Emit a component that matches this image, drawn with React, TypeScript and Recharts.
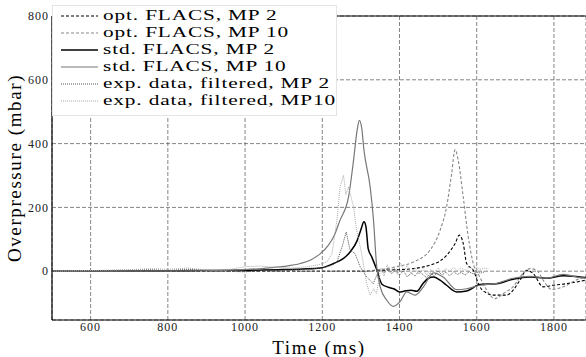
import React from "react";
import { LineChart, Line, XAxis, YAxis, CartesianGrid, ReferenceLine } from "recharts";

type Pt = { t: number; p: number };

const X_TICKS = [600, 800, 1000, 1200, 1400, 1600, 1800];
const Y_TICKS = [0, 200, 400, 600, 800];

// [time ms, overpressure mbar]
const optMp2: [number, number][] = [
    [500, 0], [1300, 0], [1350, 3], [1400, 5], [1436, 8], [1479, 19], [1505, 32], [1522, 50],
    [1535, 70], [1544, 87], [1555, 113], [1565, 87], [1574, 24], [1591, 3], [1608, -49],
    [1625, -68], [1643, -75], [1677, -75], [1694, -60], [1712, -28], [1729, 3], [1746, -7],
    [1772, -49], [1798, -44], [1833, -39], [1883, -28],
];

const optMp10: [number, number][] = [
    [500, 0], [1300, 1], [1350, 5], [1393, 14], [1436, 29], [1479, 66], [1505, 128], [1522, 202],
    [1535, 306], [1544, 381], [1552, 348], [1565, 233], [1578, 108], [1591, 24], [1608, -18],
    [1626, -60], [1647, -86], [1669, -70], [1694, -49], [1720, -7], [1738, 8], [1755, 3],
    [1772, -28], [1794, -57], [1824, -49], [1867, -23], [1883, -18],
];

const stdMp2: [number, number][] = [
    [500, 0], [700, 1], [900, 2], [1000, 3], [1100, 5], [1150, 7], [1195, 10], [1229, 24],
    [1255, 40], [1272, 60], [1290, 95], [1300, 130], [1308, 155], [1313, 140], [1319, 70],
    [1328, 45], [1341, 5], [1354, -40], [1370, -50], [1385, -55], [1400, -65], [1414, -62],
    [1430, -60], [1445, -63], [1460, -40], [1475, -22], [1488, -18], [1505, -28], [1522, -44],
    [1548, -65], [1574, -62], [1608, -42], [1652, -39], [1694, -25], [1738, -18], [1781, -22],
    [1824, -14], [1867, -18], [1883, -20],
];

const stdMp10: [number, number][] = [
    [500, 0], [800, 1], [950, 3], [1000, 5], [1050, 9], [1100, 15], [1143, 24], [1170, 35],
    [1195, 55], [1215, 80], [1229, 107], [1246, 160], [1268, 233], [1281, 348], [1290, 440],
    [1296, 473], [1302, 450], [1308, 379], [1324, 264], [1332, 170], [1341, 14], [1350, -49],
    [1367, -91], [1384, -110], [1401, -96], [1419, -65], [1440, -75], [1462, -49], [1488, -5],
    [1513, -18], [1548, -58], [1574, -55], [1608, -44], [1652, -38], [1694, -22], [1738, -16],
    [1781, -22], [1824, -10], [1867, -20], [1883, -22],
];

const expMp2: [number, number][] = [
    [500, 0], [600, 1], [700, 3], [750, 5], [800, 2], [850, 6], [900, 3], [950, 0], [1000, -2],
    [1050, 2], [1100, 3], [1150, 5], [1200, 10], [1225, 18], [1238, 29], [1251, 76], [1262, 123],
    [1272, 66], [1285, 55], [1298, 14], [1315, -18], [1332, -39], [1342, -10], [1350, 3],
    [1360, -5], [1370, 10], [1380, -8], [1390, 5], [1400, -12], [1410, 2], [1420, -18],
    [1430, -5], [1440, -15], [1450, 0], [1460, -10], [1470, -20], [1480, -5], [1490, -15],
    [1500, 0], [1510, -12], [1520, -3], [1530, -15], [1540, -2], [1550, -10], [1560, -4],
    [1570, -12], [1580, -2], [1590, -8], [1600, -3], [1610, -6], [1620, -2],
];

const expMp10: [number, number][] = [
    [500, 0], [600, 2], [700, 5], [760, 8], [800, 6], [850, 10], [900, 4], [950, 3], [980, 10],
    [1000, 14], [1040, 16], [1080, 12], [1120, 10], [1160, 14], [1190, 20], [1212, 29],
    [1225, 55], [1238, 160], [1246, 264], [1255, 301], [1261, 240], [1268, 264], [1281, 202],
    [1289, 128], [1302, 55], [1315, -40], [1324, -75], [1333, -55], [1340, -70], [1348, -20],
    [1352, 10], [1360, -15], [1368, 20], [1376, -5], [1385, 15], [1394, -10], [1403, 25],
    [1412, 0], [1420, 20], [1430, -8], [1440, 12], [1450, -10], [1460, 8], [1470, -12],
    [1480, 5], [1490, -5], [1500, 10], [1510, -5], [1520, 8], [1530, 0], [1540, 12], [1550, 2],
    [1560, 10], [1570, 3], [1580, 14], [1590, 5], [1600, 12], [1610, 6], [1620, 10], [1630, 8],
];

const toPts = (arr: [number, number][]): Pt[] => arr.map(([t, p]) => ({ t, p }));

const SERIES = [
    { name: "opt. FLACS, MP 2", data: optMp2, color: "#000", dash: "3 2", width: 1.1, type: "monotone" },
    { name: "opt. FLACS, MP 10", data: optMp10, color: "#888", dash: "3 2", width: 1.1, type: "monotone" },
    { name: "std. FLACS, MP 2", data: stdMp2, color: "#000", dash: undefined, width: 1.5, type: "monotone" },
    { name: "std. FLACS, MP 10", data: stdMp10, color: "#777", dash: undefined, width: 1.2, type: "monotone" },
    { name: "exp. data, filtered, MP 2", data: expMp2, color: "#555", dash: "1 1", width: 1, type: "linear" },
    { name: "exp. data, filtered, MP10", data: expMp10, color: "#aaa", dash: "1 1", width: 1, type: "linear" },
];

const FONT = "Liberation Serif";

// the original figure is stretched sideways, so the legend text is too
const LegendBox = () => (
    <div
        style={{
            position: "absolute",
            left: 52,
            top: 5,
            background: "#fff",
            border: "1px solid #e4e4e4",
            width: 283,
            height: 108,
            paddingTop: 1,
            fontFamily: FONT,
        }}
    >
        {SERIES.map((s, i) => (
            <div key={`lg-${i}`} style={{ display: "flex", alignItems: "center", height: 17 }}>
                <svg width={50} height={10} style={{ flex: "none" }}>
                    <line x1={8} x2={45} y1={5} y2={5} stroke={s.color} strokeWidth={s.width} strokeDasharray={s.dash} />
                </svg>
                <span
                    style={{
                        display: "inline-block",
                        fontSize: 15,
                        lineHeight: "17px",
                        color: "#000",
                        whiteSpace: "nowrap",
                        letterSpacing: 0.6,
                        transform: "scaleX(1.42)",
                        transformOrigin: "left center",
                    }}
                >
                    {s.name}
                </span>
            </div>
        ))}
    </div>
);

export default function App() {
    return (
        <div style={{ position: "absolute", left: 0, top: 0, width: 586, height: 357, background: "#fff", overflow: "hidden" }}>
            <LineChart width={586} height={357} margin={{ top: 16, right: 0, bottom: 0, left: 0 }}>
                <CartesianGrid stroke="#666" strokeDasharray="4 2" strokeWidth={0.8} />
                <XAxis
                    dataKey="t"
                    type="number"
                    domain={[500, 1883]}
                    ticks={X_TICKS}
                    allowDataOverflow
                    height={37}
                    axisLine={{ stroke: "#000", strokeWidth: 1.2 }}
                    tickLine={false}
                    tickSize={2}
                    tickMargin={0}
                    tick={{ fontSize: 12, fill: "#222", fontFamily: FONT, letterSpacing: 1 }}
                    label={{ value: "Time (ms)", position: "insideBottom", offset: 3, fontSize: 19, fill: "#000", fontFamily: FONT, letterSpacing: 1.6 }}
                />
                <YAxis
                    dataKey="p"
                    type="number"
                    domain={[-153, 800]}
                    ticks={Y_TICKS}
                    allowDataOverflow
                    width={52}
                    axisLine={{ stroke: "#000", strokeWidth: 1.2 }}
                    tickLine={false}
                    tickSize={2}
                    tickMargin={1}
                    tick={{ fontSize: 12, fill: "#222", fontFamily: FONT, letterSpacing: 1 }}
                    label={{
                        value: "Overpressure (mbar)",
                        angle: -90,
                        position: "insideLeft",
                        offset: 14,
                        style: { textAnchor: "middle" },
                        fontSize: 19,
                        fill: "#000",
                        fontFamily: FONT,
                        letterSpacing: 1.6,
                    }}
                />
                <ReferenceLine y={800} stroke="#000" strokeWidth={1.2} />
                {SERIES.map((s, i) => (
                    <Line
                        key={`ln-${i}`}
                        data={toPts(s.data)}
                        dataKey="p"
                        name={s.name}
                        type={s.type as any}
                        stroke={s.color}
                        strokeWidth={s.width}
                        strokeDasharray={s.dash}
                        dot={false}
                        activeDot={false}
                        isAnimationActive={false}
                    />
                ))}
            </LineChart>
            <LegendBox />
        </div>
    );
}
